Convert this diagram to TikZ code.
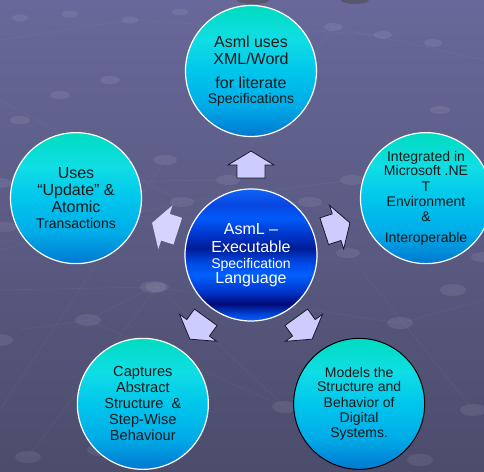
\documentclass[tikz,border=0pt]{standalone}
\usepackage{fontspec}
\setmainfont{Liberation Sans}
\usetikzlibrary{calc}
\definecolor{bgtop}{HTML}{68689A}
\definecolor{bgbot}{HTML}{4C4C6C}
\definecolor{otop}{HTML}{00DCC0}
\definecolor{ohigh}{HTML}{10DDE5}
\definecolor{omid}{HTML}{00C6EC}
\definecolor{olow}{HTML}{00ACE8}
\definecolor{obot}{HTML}{0078D0}
\definecolor{arrowfill}{HTML}{CCCCFF}
\definecolor{arrowline}{HTML}{1A1A2A}
\pgfdeclareverticalshading{outerfill}{100bp}{color(0bp)=(obot); color(25bp)=(obot); color(37bp)=(olow); color(50bp)=(omid); color(62bp)=(ohigh); color(75bp)=(otop); color(100bp)=(otop)}
\pgfdeclareverticalshading{corefill}{100bp}{%
color(0bp)=(rgb,255:red,8;green,96;blue,250);
color(25bp)=(rgb,255:red,8;green,96;blue,250);
color(27.5bp)=(rgb,255:red,0;green,70;blue,220);
color(31.5bp)=(rgb,255:red,0;green,10;blue,120);
color(36bp)=(rgb,255:red,0;green,52;blue,200);
color(42.5bp)=(rgb,255:red,0;green,96;blue,255);
color(47.5bp)=(rgb,255:red,0;green,70;blue,225);
color(52.5bp)=(rgb,255:red,0;green,28;blue,150);
color(57.5bp)=(rgb,255:red,0;green,52;blue,200);
color(64bp)=(rgb,255:red,0;green,90;blue,250);
color(69bp)=(rgb,255:red,8;green,70;blue,225);
color(75bp)=(rgb,255:red,16;green,100;blue,245);
color(100bp)=(rgb,255:red,16;green,100;blue,245)}
\tikzset{
  outer/.style={circle, minimum size=131pt, inner sep=0pt, shade, shading=outerfill,
    draw=white, line width=1.2pt, align=center, text=black!90,
    font=\fontsize{16}{17}\selectfont},
  core/.style={circle, minimum size=132pt, inner sep=0pt, shade, shading=corefill,
    draw=white, line width=1.2pt, align=center, text=white,
    font=\fontsize{16}{17}\selectfont},
  arrowblock/.style={fill=arrowfill, draw=arrowline, line width=0.8pt, line join=miter},
  arrowsoft/.style={fill=arrowfill!85!white, draw=none},
  bump/.style={fill=white, opacity=0.08},
  gridline/.style={draw=white, opacity=0.045, line width=0.7pt}
}
\begin{document}
\begin{tikzpicture}[x=1pt, y=1pt]
  \useasboundingbox (0,0) rectangle (484,471);
  \clip (0,0) rectangle (484,471);
  % background
  \shade[top color=bgtop, bottom color=bgbot] (0,0) rectangle (484,471);
  % faint perspective grid
  \foreach \ax/\ay/\bx/\by in {0/290/153/287, 88/320/153/287, 0/250/182/202, 182/202/352/180,
      0/410/165/160, 157/287/285/407, 285/407/420/460, 400/323/484/300, 310/202/484/257,
      0/183/228/180, 228/180/333/27, 348/253/473/410, 20/330/88/320, 88/320/285/407,
      153/287/400/323, 0/100/182/202, 28/457/157/287, 333/27/484/60, 0/40/130/20, 130/20/383/35}
    \draw[gridline] (\ax,{471-\ay}) -- (\bx,{471-\by});
  \foreach \px/\py/\rx/\ry in {153/287/13/6, 88/320/13/6, 28/457/13/6, 400/323/13/6,
      285/407/13/6, 473/410/13/6, 420/460/13/6, 453/290/13/6, 165/160/12/5, 182/202/12/5,
      5/227/12/5, 0/183/12/5, 228/180/12/5, 310/202/12/5, 157/287/12/5, 352/180/12/5,
      348/253/12/5, 483/257/12/5, 333/27/9/4, 383/35/9/4, 433/43/9/4, 20/18/8/3.5,
      70/14/8/3.5, 130/20/8/3.5, 180/12/8/3.5, 60/95/10/4, 110/80/10/4, 20/120/10/4,
      440/110/10/4, 460/160/10/4, 0/340/13/6, 100/450/13/6}
    \fill[bump] (\px,{471-\py}) ellipse ({\rx} and {\ry});
  \fill[black!70, opacity=0.6] (253,471) ellipse (16 and 4);
  \fill[black!70, opacity=0.6] (355,471) ellipse (14 and 4);

  % central node
  \node[core] (c) at (251,216) {AsmL --\\[1pt]Executable\\[-1pt]{\fontsize{14}{15}\selectfont Specification}\\[-2pt]Language};

  % outer nodes
  \node[outer] (top) at ($(c)+(90:184)$) {Asml uses\\XML/Word\\[7pt]for literate\\[-2pt]{\fontsize{14}{15}\selectfont Specifications}};
  \node[outer, font=\fontsize{14}{15}\selectfont] (right) at ($(c)+(18:184)$) {Integrated in\\[-1pt]Microsoft .NE\\[1pt]T\\Environment\\\&\\[6pt]Interoperable};
  \node[outer] (left) at ($(c)+(162:184)$) {Uses\\“Update” \&\\Atomic\\[-1pt]{\fontsize{14}{15}\selectfont Transactions}};
  \node[outer, font=\fontsize{14.6}{16}\selectfont] (bl) at ($(c)+(-126:184)$) {Captures\\Abstract\\Structure~~\&\\Step-Wise\\Behaviour};
  \node[outer, draw=black, line width=1pt, font=\fontsize{14}{15}\selectfont] (br) at ($(c)+(-54:184)$) {Models the\\[-1pt]Structure and\\[1pt]Behavior of\\Digital\\Systems.};

  % block arrows from the core toward each outer node
  \foreach \ang/\sty in {90/arrowblock, 18/arrowblock, 162/arrowsoft, -54/arrowblock, -126/arrowblock}
    \draw[\sty, shift={(c)}, rotate={\ang-90}]
      (0,104) -- (23,90) -- (14,90) -- (14,77) -- (-14,77) -- (-14,90) -- (-23,90) -- cycle;
\end{tikzpicture}
\end{document}
